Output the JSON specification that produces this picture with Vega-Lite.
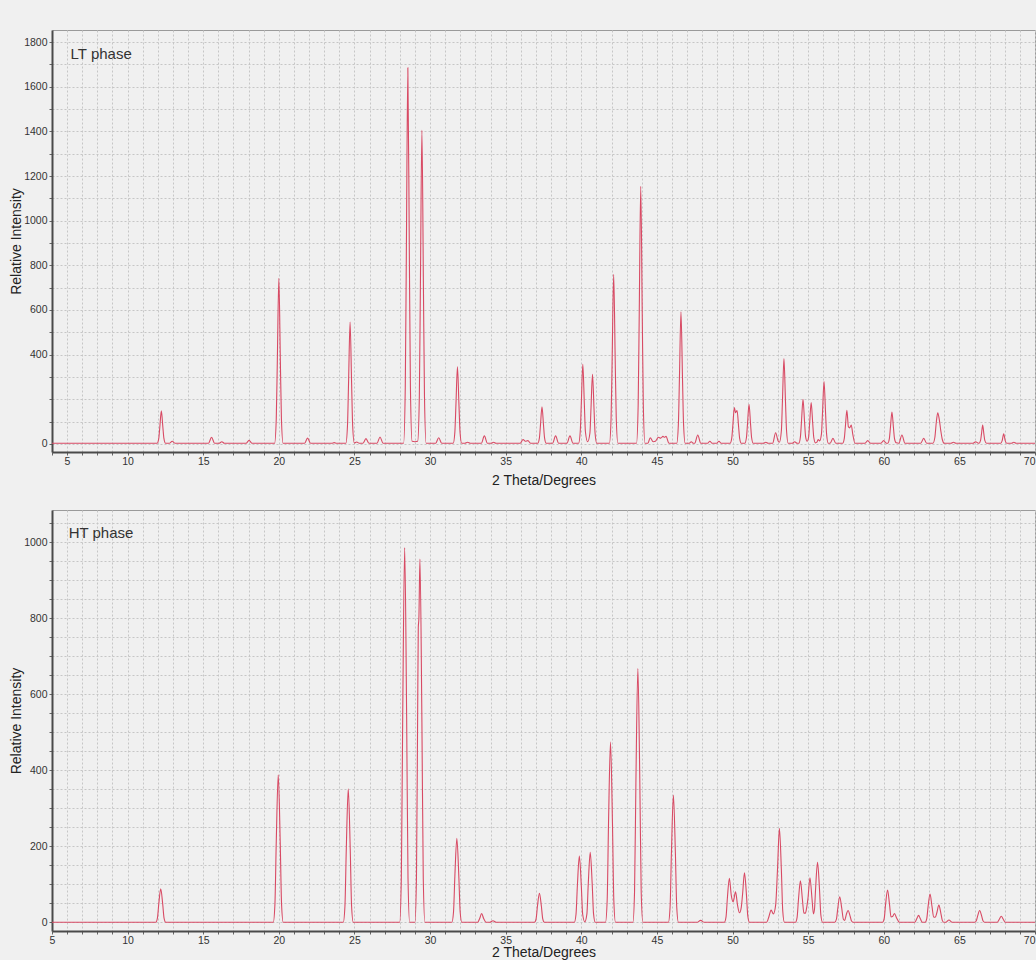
{
  "$schema": "https://vega.github.io/schema/vega-lite/v6.json",
  "background": "#f0f0f0",
  "padding": {"left": 9, "top": 29, "right": 3, "bottom": 0},
  "spacing": 21,
  "config": {
    "font": "Liberation Sans",
    "view": {"stroke": "#9a9a9a", "strokeWidth": 1},
    "axis": {
      "labelFont": "Liberation Sans", "labelFontSize": 10.5, "labelColor": "#333333",
      "titleFont": "Liberation Sans", "titleFontSize": 14, "titleFontWeight": "normal", "titleColor": "#222222",
      "domainColor": "#4a4a4a", "domainWidth": 2, "tickColor": "#666666", "tickSize": 3, "tickCount": 500,
      "gridColor": "#c6c6c6", "gridDash": [2, 2], "gridWidth": 1, "labelOverlap": false, "labelFlush": false
    }
  },
  "datasets": {
    "lt": [
      {"t":5,"i":3},
      {"t":11.95,"i":3},{"t":12.06,"i":25},{"t":12.13,"i":76},{"t":12.23,"i":148},{"t":12.33,"i":76},{"t":12.4,"i":25},{"t":12.51,"i":3},
      {"t":12.75,"i":3},{"t":12.95,"i":12},{"t":13.15,"i":3},
      {"t":15.35,"i":3},{"t":15.55,"i":30},{"t":15.75,"i":3},
      {"t":16.05,"i":3},{"t":16.23,"i":10},{"t":16.4,"i":3},
      {"t":17.83,"i":3},{"t":18.03,"i":16},{"t":18.23,"i":3},
      {"t":19.72,"i":3},{"t":19.83,"i":114},{"t":19.9,"i":373},{"t":20,"i":742},{"t":20.1,"i":373},{"t":20.17,"i":114},{"t":20.28,"i":3},
      {"t":21.7,"i":3},{"t":21.9,"i":26},{"t":22.1,"i":3},
      {"t":23.5,"i":3},{"t":23.66,"i":6},{"t":23.82,"i":3},
      {"t":24.43,"i":3},{"t":24.54,"i":84},{"t":24.61,"i":275},{"t":24.71,"i":546},{"t":24.81,"i":275},{"t":24.88,"i":84},{"t":24.99,"i":4},
      {"t":25.15,"i":9},{"t":25.32,"i":3},
      {"t":25.56,"i":3},{"t":25.76,"i":24},{"t":25.96,"i":3},
      {"t":26.49,"i":3},{"t":26.69,"i":31},{"t":26.89,"i":3},
      {"t":28.25,"i":3},{"t":28.36,"i":255},{"t":28.43,"i":844},{"t":28.53,"i":1685},{"t":28.63,"i":844},{"t":28.7,"i":255},{"t":28.81,"i":12},
      {"t":29.0,"i":10},
      {"t":29.18,"i":12},{"t":29.29,"i":213},{"t":29.36,"i":704},{"t":29.46,"i":1405},{"t":29.56,"i":704},{"t":29.63,"i":213},{"t":29.74,"i":3},
      {"t":30.37,"i":3},{"t":30.57,"i":28},{"t":30.77,"i":3},
      {"t":31.53,"i":3},{"t":31.64,"i":54},{"t":31.71,"i":175},{"t":31.81,"i":346},{"t":31.91,"i":175},{"t":31.98,"i":54},{"t":32.09,"i":3},
      {"t":32.3,"i":3},{"t":32.48,"i":8},{"t":32.66,"i":3},
      {"t":33.39,"i":3},{"t":33.59,"i":36},{"t":33.79,"i":3},
      {"t":34.05,"i":3},{"t":34.2,"i":8},{"t":34.35,"i":3},
      {"t":35.95,"i":3},{"t":36.15,"i":20},{"t":36.3,"i":12},{"t":36.47,"i":15},{"t":36.65,"i":3},
      {"t":37.12,"i":3},{"t":37.23,"i":27},{"t":37.3,"i":85},{"t":37.4,"i":166},{"t":37.5,"i":85},{"t":37.57,"i":27},{"t":37.68,"i":3},
      {"t":38.1,"i":3},{"t":38.3,"i":36},{"t":38.5,"i":3},
      {"t":39.05,"i":3},{"t":39.25,"i":36},{"t":39.45,"i":3},
      {"t":39.82,"i":3},{"t":39.93,"i":56},{"t":40.0,"i":180},{"t":40.1,"i":357},{"t":40.2,"i":180},{"t":40.27,"i":56},{"t":40.42,"i":10},
      {"t":40.57,"i":49},{"t":40.64,"i":158},{"t":40.74,"i":312},{"t":40.84,"i":158},{"t":40.91,"i":49},{"t":41.02,"i":3},
      {"t":41.86,"i":3},{"t":41.97,"i":117},{"t":42.04,"i":382},{"t":42.14,"i":760},{"t":42.24,"i":382},{"t":42.31,"i":117},{"t":42.42,"i":3},
      {"t":43.65,"i":3},{"t":43.76,"i":176},{"t":43.83,"i":579},{"t":43.93,"i":1154},{"t":44.03,"i":579},{"t":44.1,"i":176},{"t":44.21,"i":3},
      {"t":44.4,"i":3},{"t":44.56,"i":28},{"t":44.75,"i":10},
      {"t":44.9,"i":12},{"t":45.1,"i":30},{"t":45.25,"i":26},{"t":45.4,"i":34},{"t":45.5,"i":30},{"t":45.6,"i":34},{"t":45.8,"i":3},
      {"t":46.31,"i":3},{"t":46.42,"i":91},{"t":46.49,"i":298},{"t":46.59,"i":592},{"t":46.69,"i":298},{"t":46.76,"i":91},{"t":46.87,"i":3},
      {"t":47.12,"i":3},{"t":47.27,"i":10},{"t":47.42,"i":3},
      {"t":47.5,"i":3},{"t":47.7,"i":40},{"t":47.9,"i":3},
      {"t":48.35,"i":3},{"t":48.5,"i":12},{"t":48.65,"i":3},
      {"t":48.95,"i":3},{"t":49.1,"i":12},{"t":49.25,"i":3},
      {"t":49.84,"i":3},{"t":49.95,"i":27},{"t":50.02,"i":83},{"t":50.12,"i":163},{"t":50.2,"i":140},{"t":50.3,"i":150},{"t":50.4,"i":78},{"t":50.47,"i":25},{"t":50.58,"i":3},
      {"t":50.81,"i":3},{"t":50.92,"i":29},{"t":50.99,"i":90},{"t":51.09,"i":178},{"t":51.19,"i":90},{"t":51.26,"i":29},{"t":51.37,"i":3},
      {"t":52.05,"i":3},{"t":52.2,"i":8},{"t":52.35,"i":3},
      {"t":52.65,"i":3},{"t":52.85,"i":50},{"t":53.02,"i":12},
      {"t":53.1,"i":8},{"t":53.23,"i":60},{"t":53.3,"i":192},{"t":53.4,"i":382},{"t":53.5,"i":192},{"t":53.57,"i":60},{"t":53.68,"i":3},
      {"t":53.95,"i":3},{"t":54.11,"i":10},{"t":54.27,"i":3},
      {"t":54.38,"i":3},{"t":54.49,"i":33},{"t":54.56,"i":101},{"t":54.66,"i":200},{"t":54.76,"i":101},{"t":54.83,"i":33},{"t":54.93,"i":12},{"t":55.03,"i":30},{"t":55.1,"i":94},{"t":55.2,"i":185},{"t":55.3,"i":94},{"t":55.37,"i":30},{"t":55.48,"i":5},
      {"t":55.58,"i":8},{"t":55.66,"i":20},{"t":55.76,"i":14},{"t":55.88,"i":45},{"t":55.95,"i":141},{"t":56.05,"i":279},{"t":56.15,"i":141},{"t":56.22,"i":44},{"t":56.33,"i":3},
      {"t":56.45,"i":3},{"t":56.64,"i":25},{"t":56.83,"i":3},
      {"t":57.28,"i":3},{"t":57.39,"i":25},{"t":57.46,"i":77},{"t":57.56,"i":151},{"t":57.66,"i":77},{"t":57.74,"i":72},{"t":57.85,"i":85},{"t":57.95,"i":44},{"t":58.1,"i":3},
      {"t":58.75,"i":3},{"t":58.94,"i":15},{"t":59.13,"i":3},
      {"t":59.8,"i":3},{"t":59.99,"i":15},{"t":60.18,"i":3},
      {"t":60.26,"i":3},{"t":60.37,"i":24},{"t":60.44,"i":73},{"t":60.54,"i":143},{"t":60.64,"i":73},{"t":60.71,"i":24},{"t":60.82,"i":5},
      {"t":61.0,"i":3},{"t":61.2,"i":40},{"t":61.4,"i":3},
      {"t":62.44,"i":3},{"t":62.64,"i":25},{"t":62.84,"i":3},
      {"t":63.25,"i":3},{"t":63.38,"i":30},{"t":63.47,"i":95},{"t":63.57,"i":140},{"t":63.67,"i":110},{"t":63.77,"i":60},{"t":63.87,"i":20},{"t":64.0,"i":3},
      {"t":64.45,"i":3},{"t":64.61,"i":8},{"t":64.77,"i":3},
      {"t":65.9,"i":3},{"t":66.08,"i":10},{"t":66.22,"i":4},
      {"t":66.3,"i":3},{"t":66.4,"i":16},{"t":66.46,"i":44},{"t":66.54,"i":85},{"t":66.62,"i":44},{"t":66.68,"i":16},{"t":66.8,"i":3},
      {"t":67.73,"i":3},{"t":67.83,"i":15},{"t":67.93,"i":46},{"t":68.03,"i":15},{"t":68.13,"i":3},
      {"t":68.45,"i":3},{"t":68.6,"i":8},{"t":68.75,"i":3},
      {"t":70,"i":3}
    ],
    "ht": [
      {"t":5,"i":0},
      {"t":11.86,"i":0},{"t":11.97,"i":11},{"t":12.06,"i":48},{"t":12.19,"i":88},{"t":12.32,"i":48},{"t":12.41,"i":11},{"t":12.52,"i":0},
      {"t":19.63,"i":0},{"t":19.74,"i":47},{"t":19.83,"i":213},{"t":19.96,"i":388},{"t":20.09,"i":213},{"t":20.18,"i":47},{"t":20.29,"i":0},
      {"t":24.26,"i":0},{"t":24.37,"i":42},{"t":24.46,"i":193},{"t":24.59,"i":351},{"t":24.72,"i":193},{"t":24.81,"i":42},{"t":24.92,"i":0},
      {"t":27.99,"i":0},{"t":28.1,"i":118},{"t":28.19,"i":542},{"t":28.32,"i":986},{"t":28.45,"i":542},{"t":28.54,"i":118},{"t":28.65,"i":0},
      {"t":29.0,"i":0},{"t":29.1,"i":120},{"t":29.18,"i":560},{"t":29.22,"i":775},{"t":29.26,"i":800},{"t":29.33,"i":956},{"t":29.46,"i":525},{"t":29.55,"i":115},{"t":29.66,"i":0},
      {"t":31.44,"i":0},{"t":31.55,"i":27},{"t":31.64,"i":122},{"t":31.77,"i":221},{"t":31.9,"i":122},{"t":31.99,"i":27},{"t":32.1,"i":0},
      {"t":33.15,"i":0},{"t":33.28,"i":10},{"t":33.41,"i":23},{"t":33.54,"i":10},{"t":33.7,"i":0},
      {"t":33.95,"i":0},{"t":34.16,"i":4},{"t":34.37,"i":0},
      {"t":36.9,"i":0},{"t":37.01,"i":9},{"t":37.1,"i":42},{"t":37.23,"i":76},{"t":37.36,"i":42},{"t":37.45,"i":9},{"t":37.56,"i":0},
      {"t":39.54,"i":0},{"t":39.65,"i":21},{"t":39.74,"i":96},{"t":39.87,"i":174},{"t":40.0,"i":96},{"t":40.09,"i":21},{"t":40.23,"i":1},{"t":40.37,"i":22},{"t":40.46,"i":101},{"t":40.59,"i":184},{"t":40.72,"i":101},{"t":40.81,"i":22},{"t":40.92,"i":0},
      {"t":41.6,"i":0},{"t":41.71,"i":57},{"t":41.8,"i":261},{"t":41.93,"i":474},{"t":42.06,"i":261},{"t":42.15,"i":57},{"t":42.26,"i":0},
      {"t":43.41,"i":0},{"t":43.52,"i":80},{"t":43.61,"i":367},{"t":43.74,"i":668},{"t":43.87,"i":367},{"t":43.96,"i":80},{"t":44.07,"i":0},
      {"t":45.76,"i":0},{"t":45.87,"i":40},{"t":45.96,"i":184},{"t":46.09,"i":335},{"t":46.22,"i":184},{"t":46.31,"i":40},{"t":46.42,"i":0},
      {"t":47.65,"i":0},{"t":47.89,"i":5},{"t":48.13,"i":0},
      {"t":49.46,"i":0},{"t":49.57,"i":14},{"t":49.66,"i":64},{"t":49.79,"i":116},{"t":49.92,"i":70},{"t":50.04,"i":54},{"t":50.2,"i":80},{"t":50.33,"i":45},{"t":50.46,"i":25},{"t":50.58,"i":40},{"t":50.66,"i":72},{"t":50.79,"i":130},{"t":50.92,"i":72},{"t":51.01,"i":16},{"t":51.12,"i":0},
      {"t":52.25,"i":0},{"t":52.4,"i":14},{"t":52.55,"i":32},{"t":52.7,"i":22},{"t":52.85,"i":45},{"t":52.97,"i":136},{"t":53.1,"i":247},{"t":53.23,"i":136},{"t":53.32,"i":30},{"t":53.43,"i":0},
      {"t":54.16,"i":0},{"t":54.27,"i":13},{"t":54.36,"i":60},{"t":54.49,"i":109},{"t":54.62,"i":60},{"t":54.72,"i":24},{"t":54.82,"i":24},{"t":54.9,"i":38},{"t":54.99,"i":64},{"t":55.12,"i":117},{"t":55.25,"i":64},{"t":55.35,"i":22},{"t":55.42,"i":35},{"t":55.49,"i":87},{"t":55.62,"i":158},{"t":55.75,"i":87},{"t":55.84,"i":19},{"t":55.95,"i":0},
      {"t":56.76,"i":0},{"t":56.87,"i":8},{"t":56.96,"i":37},{"t":57.09,"i":67},{"t":57.22,"i":37},{"t":57.33,"i":8},{"t":57.42,"i":5},{"t":57.52,"i":20},{"t":57.64,"i":31},{"t":57.77,"i":17},{"t":57.86,"i":4},{"t":57.97,"i":0},
      {"t":59.92,"i":0},{"t":60.03,"i":10},{"t":60.12,"i":47},{"t":60.25,"i":85},{"t":60.38,"i":47},{"t":60.48,"i":14},{"t":60.58,"i":15},{"t":60.71,"i":23},{"t":60.84,"i":12},{"t":61.04,"i":0},
      {"t":62.05,"i":0},{"t":62.18,"i":9},{"t":62.3,"i":18},{"t":62.42,"i":9},{"t":62.55,"i":0},
      {"t":62.73,"i":0},{"t":62.84,"i":9},{"t":62.93,"i":41},{"t":63.06,"i":74},{"t":63.19,"i":41},{"t":63.3,"i":14},{"t":63.4,"i":13},{"t":63.51,"i":25},{"t":63.64,"i":45},{"t":63.77,"i":25},{"t":63.87,"i":5},{"t":63.97,"i":0},
      {"t":64.1,"i":0},{"t":64.31,"i":6},{"t":64.52,"i":0},
      {"t":66.01,"i":0},{"t":66.12,"i":4},{"t":66.21,"i":17},{"t":66.34,"i":31},{"t":66.47,"i":17},{"t":66.56,"i":4},{"t":66.67,"i":0},
      {"t":67.5,"i":0},{"t":67.64,"i":8},{"t":67.77,"i":16},{"t":67.9,"i":8},{"t":68.04,"i":0},
      {"t":70,"i":0}
    ]
  },
  "vconcat": [
    {
      "width": 983,
      "height": 422,
      "layer": [
        {
          "data": {"name": "lt"},
          "mark": {"type": "line", "color": "#d84a64", "strokeWidth": 1.1, "interpolate": "monotone"},
          "encoding": {
            "x": {
              "field": "t", "type": "quantitative",
              "scale": {"domain": [5, 70], "nice": false, "zero": false},
              "axis": {
                "title": "2 Theta/Degrees",
                "values": [5,6,7,8,9,10,11,12,13,14,15,16,17,18,19,20,21,22,23,24,25,26,27,28,29,30,31,32,33,34,35,36,37,38,39,40,41,42,43,44,45,46,47,48,49,50,51,52,53,54,55,56,57,58,59,60,61,62,63,64,65,66,67,68,69,70],
                "tickCount": 500,
                "labelExpr": "datum.value % 5 === 0 ? format(datum.value, 'd') : ''",
                "labelPadding": 1,
                "titlePadding": 7,
                "labelOffset": {"condition": {"test": "datum.value === 5", "value": 15}, "value": 0},
                "labelAlign": {"condition": {"test": "datum.value === 70", "value": "right"}, "value": "center"}
              }
            },
            "y": {
              "field": "i", "type": "quantitative",
              "scale": {"domain": [-36, 1854], "nice": false, "zero": false},
              "axis": {
                "title": "Relative Intensity",
                "values": [0,100,200,300,400,500,600,700,800,900,1000,1100,1200,1300,1400,1500,1600,1700,1800],
                "tickCount": 500,
                "labelExpr": "datum.value % 200 === 0 && datum.value !== 200 ? format(datum.value, 'd') : ''",
                "labelPadding": 2,
                "titlePadding": 0
              }
            }
          }
        },
        {
          "data": {"values": [{}]},
          "mark": {"type": "text", "align": "left", "baseline": "middle", "fontSize": 15, "font": "Liberation Sans", "color": "#333333"},
          "encoding": {
            "x": {"datum": 6.23, "type": "quantitative"},
            "y": {"datum": 1746, "type": "quantitative"},
            "text": {"value": "LT phase"}
          }
        }
      ]
    },
    {
      "width": 983,
      "height": 421,
      "layer": [
        {
          "data": {"name": "ht"},
          "mark": {"type": "line", "color": "#d84a64", "strokeWidth": 1.1, "interpolate": "monotone"},
          "encoding": {
            "x": {
              "field": "t", "type": "quantitative",
              "scale": {"domain": [5, 70], "nice": false, "zero": false},
              "axis": {
                "title": "2 Theta/Degrees",
                "values": [5,6,7,8,9,10,11,12,13,14,15,16,17,18,19,20,21,22,23,24,25,26,27,28,29,30,31,32,33,34,35,36,37,38,39,40,41,42,43,44,45,46,47,48,49,50,51,52,53,54,55,56,57,58,59,60,61,62,63,64,65,66,67,68,69,70],
                "tickCount": 500,
                "labelExpr": "datum.value % 5 === 0 ? format(datum.value, 'd') : ''",
                "labelPadding": 1,
                "titlePadding": 0,
                "labelAlign": {"condition": {"test": "datum.value === 70", "value": "right"}, "value": "center"}
              }
            },
            "y": {
              "field": "i", "type": "quantitative",
              "scale": {"domain": [-23, 1085], "nice": false, "zero": false},
              "axis": {
                "title": "Relative Intensity",
                "values": [0,50,100,150,200,250,300,350,400,450,500,550,600,650,700,750,800,850,900,950,1000,1050],
                "tickCount": 500,
                "labelExpr": "datum.value % 200 === 0 ? format(datum.value, 'd') : ''",
                "labelPadding": 2,
                "titlePadding": 0
              }
            }
          }
        },
        {
          "data": {"values": [{}]},
          "mark": {"type": "text", "align": "left", "baseline": "middle", "fontSize": 15, "font": "Liberation Sans", "color": "#333333"},
          "encoding": {
            "x": {"datum": 6.1, "type": "quantitative"},
            "y": {"datum": 1024, "type": "quantitative"},
            "text": {"value": "HT phase"}
          }
        }
      ]
    }
  ]
}
